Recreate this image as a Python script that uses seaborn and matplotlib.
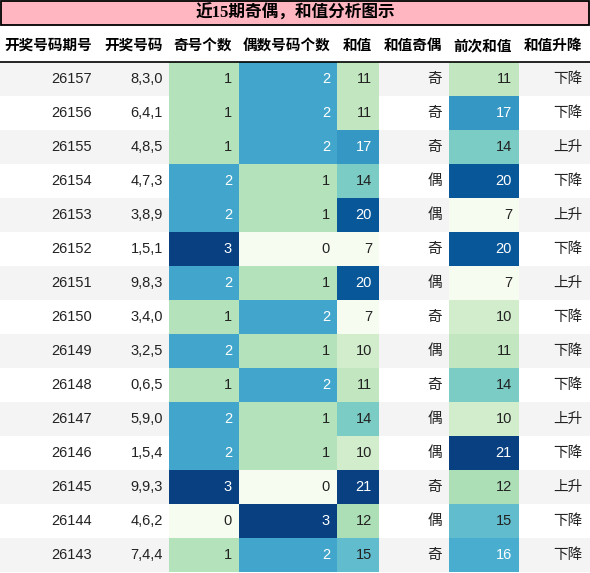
import numpy as np
import matplotlib
matplotlib.use("Agg")
import matplotlib.pyplot as plt
from matplotlib.patches import Rectangle
from matplotlib.lines import Line2D
import seaborn as sns

sns.set_theme(style="white")
plt.rcParams['font.family'] = ['Liberation Sans', 'Noto Sans CJK SC', 'DejaVu Sans']

title = "近15期奇偶，和值分析图示"
headers = ["开奖号码期号", "开奖号码", "奇号个数", "偶数号码个数", "和值", "和值奇偶", "前次和值", "和值升降"]
periods = ["26157", "26156", "26155", "26154", "26153", "26152", "26151", "26150",
           "26149", "26148", "26147", "26146", "26145", "26144", "26143"]
numbers = ["8,3,0", "6,4,1", "4,8,5", "4,7,3", "3,8,9", "1,5,1", "9,8,3", "3,4,0",
           "3,2,5", "0,6,5", "5,9,0", "1,5,4", "9,9,3", "4,6,2", "7,4,4"]
odd_counts = [1, 1, 1, 2, 2, 3, 2, 1, 2, 1, 2, 2, 3, 0, 1]
even_counts = [2, 2, 2, 1, 1, 0, 1, 2, 1, 2, 1, 1, 0, 3, 2]
sums = [11, 11, 17, 14, 20, 7, 20, 7, 10, 11, 14, 10, 21, 12, 15]
sum_parity = ["奇", "奇", "奇", "偶", "偶", "奇", "偶", "奇", "偶", "奇", "偶", "偶", "奇", "偶", "奇"]
prev_sums = [11, 17, 14, 20, 7, 20, 7, 10, 11, 14, 10, 21, 12, 15, 16]
trends = ["下降", "下降", "上升", "下降", "上升", "下降", "上升", "下降", "下降", "下降",
          "上升", "下降", "上升", "下降", "下降"]

W, H = 590, 573
fig = plt.figure(figsize=(W / 100, H / 100), dpi=100)
fig.patch.set_facecolor("white")

col_edges = [0, 98, 169, 239, 337, 379, 449, 519, 590]
pads = [6, 6, 7, 7, 7, 7, 7, 8]
top_px, row_h = 62, 34
n = len(periods)
bottom_px = top_px + n * row_h


def fy(py):
    return 1 - py / H


# title bar
fig.add_artist(Rectangle((0.5 / W, fy(25)), (W - 1.5) / W, 24 / H, transform=fig.transFigure,
                         facecolor="#ffb6c1", edgecolor="black", linewidth=1.3))
fig.text(0.5, fy(13.5), title, ha="center", va="center", fontsize=12, fontweight="bold",
         family=["Liberation Serif", "Noto Sans CJK SC"], color="black")

# headers
for j, h in enumerate(headers):
    fig.text((col_edges[j + 1] - pads[j]) / W, fy(45), h, ha="right", va="center",
             fontsize=10.5, fontweight="bold", family=["Noto Sans CJK SC"], color="black")
fig.add_artist(Line2D([0, 1], [fy(61.5), fy(61.5)], transform=fig.transFigure,
                      color="black", linewidth=1.2))

# background + plain columns
bg = fig.add_axes([0, fy(bottom_px), 1, (bottom_px - top_px) / H])
bg.set_xlim(0, W)
bg.set_ylim(n, 0)
bg.axis("off")
for i in range(n):
    bg.axhspan(i, i + 1, color="#f4f4f4" if i % 2 == 0 else "white", lw=0)

plain_cols = {0: periods, 1: numbers, 5: sum_parity, 7: trends}
for j, vals in plain_cols.items():
    for i, v in enumerate(vals):
        bg.text(col_edges[j + 1] - pads[j], i + 0.5, v, ha="right", va="center",
                fontsize=10.5, color="#222222")

# colored columns
color_cols = {2: odd_counts, 3: even_counts, 4: sums, 6: prev_sums}
cmap = plt.get_cmap("GnBu")
for j, vals in color_cols.items():
    x0, x1 = col_edges[j], col_edges[j + 1]
    ax = fig.add_axes([x0 / W, fy(bottom_px), (x1 - x0) / W, (bottom_px - top_px) / H])
    arr = np.array(vals, dtype=float).reshape(-1, 1)
    vmin, vmax = arr.min(), arr.max()
    sns.heatmap(arr, cmap="GnBu", vmin=vmin, vmax=vmax, cbar=False, ax=ax,
                xticklabels=False, yticklabels=False, linewidths=0)
    ax.set_xlabel("")
    ax.set_ylabel("")
    for i, v in enumerate(vals):
        rgba = cmap((v - vmin) / (vmax - vmin))
        lum = sns.utils.relative_luminance(rgba)
        tc = "#222222" if lum > 0.408 else "white"
        ax.annotate(str(v), xy=(1, i + 0.5), xycoords=("axes fraction", "data"),
                    xytext=(-pads[j], 0), textcoords="offset pixels",
                    ha="right", va="center", fontsize=10.5, color=tc)

fig.savefig("out.png", dpi=100, facecolor="white")
